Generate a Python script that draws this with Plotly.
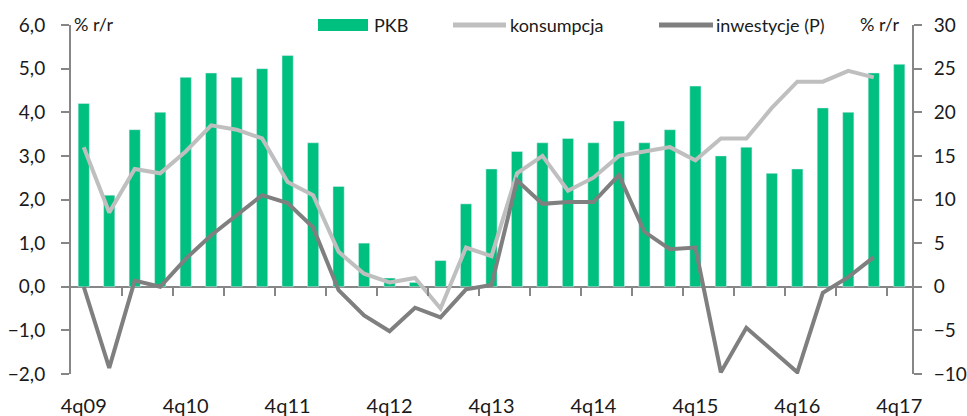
import plotly.graph_objects as go

quarters = []
for y in range(9, 18):
    for q in (1, 2, 3, 4):
        if (y == 9 and q < 4):
            continue
        quarters.append(f"{q}q{y:02d}")
quarters = quarters[:33]

pkb = [4.2, 2.1, 3.6, 4.0, 4.8, 4.9, 4.8, 5.0, 5.3, 3.3, 2.3, 1.0, 0.2, 0.1, 0.6, 1.9,
       2.7, 3.1, 3.3, 3.4, 3.3, 3.8, 3.3, 3.6, 4.6, 3.0, 3.2, 2.6, 2.7, 4.1, 4.0, 4.9, 5.1]
konsumpcja = [3.2, 1.7, 2.7, 2.6, 3.1, 3.7, 3.6, 3.4, 2.4, 2.1, 0.8, 0.3, 0.1, 0.2, -0.5, 0.9,
              0.7, 2.6, 3.0, 2.2, 2.5, 3.0, 3.1, 3.2, 2.9, 3.4, 3.4, 4.1, 4.7, 4.7, 4.95, 4.8, None]
inwestycje = [0.0, -9.3, 0.7, 0.0, 3.2, 5.9, 8.2, 10.5, 9.6, 6.8, -0.4, -3.3, -5.1, -2.4, -3.5, -0.3,
              0.2, 12.2, 9.5, 9.7, 9.7, 12.8, 6.3, 4.3, 4.5, -9.8, -4.7, -7.2, -9.8, -0.7, 1.1, 3.4, None]
label_ticks = quarters[::4]

GREEN = "#00C080"
LIGHT = "#BFBFBF"
DARK = "#7F7F7F"
AXIS = "#868686"
FONT = "Lato, 'Open Sans', sans-serif"

W, H = 967, 416
L, R, T, B = 71, 912, 25, 374

def px(x):
    return (x - L) / (R - L)

def py(y):
    return (B - y) / (B - T)

fig = go.Figure()
fig.add_trace(go.Bar(x=quarters, y=pkb, name="PKB", marker_color=GREEN, yaxis="y"))
fig.add_trace(go.Scatter(x=quarters, y=konsumpcja, name="konsumpcja", mode="lines",
                         line=dict(color=LIGHT, width=4), yaxis="y"))
fig.add_trace(go.Scatter(x=quarters, y=inwestycje, name="inwestycje (P)", mode="lines",
                         line=dict(color=DARK, width=4), yaxis="y2"))
# empty helper trace so the boundary-tick axis at the zero line gets drawn
fig.add_trace(go.Scatter(x=[None], y=[None], xaxis="x2", yaxis="y", mode="lines",
                         showlegend=False, hoverinfo="skip"))

fig.update_layout(
    width=W, height=H,
    margin=dict(l=L, r=W - R, t=T, b=H - B, autoexpand=False),
    paper_bgcolor="white", plot_bgcolor="white",
    separators=", ",
    showlegend=False,
    bargap=0.56,
    font=dict(family=FONT, size=20, color="#1a1a1a"),
    xaxis=dict(type="category", tickmode="array", tickvals=label_ticks, ticktext=label_ticks,
               showline=False, showgrid=False, zeroline=False, ticks="", automargin=False,
               ticklabelstandoff=18, range=[-0.5, len(quarters) - 0.5]),
    xaxis2=dict(overlaying="x", anchor="free", position=(0 - (-2)) / (6 - (-2)),
                range=[-0.5, len(quarters) - 0.5], tickmode="array", automargin=False,
                tickvals=[i + 1.5 for i in range(0, len(quarters) - 1, 2)],
                showticklabels=False, ticks="outside", ticklen=8, tickwidth=2, tickcolor=AXIS,
                showline=False, showgrid=False, zeroline=False),
    yaxis=dict(range=[-2, 6], dtick=1, tickformat=".1f", showgrid=False, automargin=False,
               zeroline=True, zerolinecolor=AXIS, zerolinewidth=2,
               showline=True, linecolor=AXIS, linewidth=2,
               ticks="outside", ticklen=8, tickwidth=2, tickcolor=AXIS,
               ticklabelstandoff=12, tickfont=dict(size=19)),
    yaxis2=dict(range=[-10, 30], dtick=5, overlaying="y", side="right", showgrid=False,
                zeroline=False, showline=True, linecolor=AXIS, linewidth=2, automargin=False,
                ticks="outside", ticklen=8, tickwidth=2, tickcolor=AXIS,
                ticklabelstandoff=8, tickfont=dict(size=19)),
)

# legend drawn manually
shapes = [
    dict(type="rect", xref="paper", yref="paper", x0=px(318), x1=px(368), y0=py(31), y1=py(19),
         fillcolor=GREEN, line=dict(width=0)),
    dict(type="line", xref="paper", yref="paper", x0=px(453), x1=px(506), y0=py(25), y1=py(25),
         line=dict(color=LIGHT, width=5)),
    dict(type="line", xref="paper", yref="paper", x0=px(659), x1=px(713), y0=py(25), y1=py(25),
         line=dict(color=DARK, width=5)),
]
ann = []
def text(x, y, s, anchor="left", size=18):
    ann.append(dict(xref="paper", yref="paper", x=px(x), y=py(y), text=s, showarrow=False,
                    xanchor=anchor, yanchor="middle", font=dict(size=size, family=FONT, color="#1a1a1a")))
text(372, 25, "PKB")
text(508, 25, "konsumpcja")
text(714, 25, "inwestycje (P)")
text(72, 24, "% r/r")
text(901, 24, "% r/r", anchor="right")
fig.update_layout(shapes=shapes, annotations=ann)

fig.write_html("out.html", config={"displayModeBar": False},
               post_script="document.body.style.margin='0';")
